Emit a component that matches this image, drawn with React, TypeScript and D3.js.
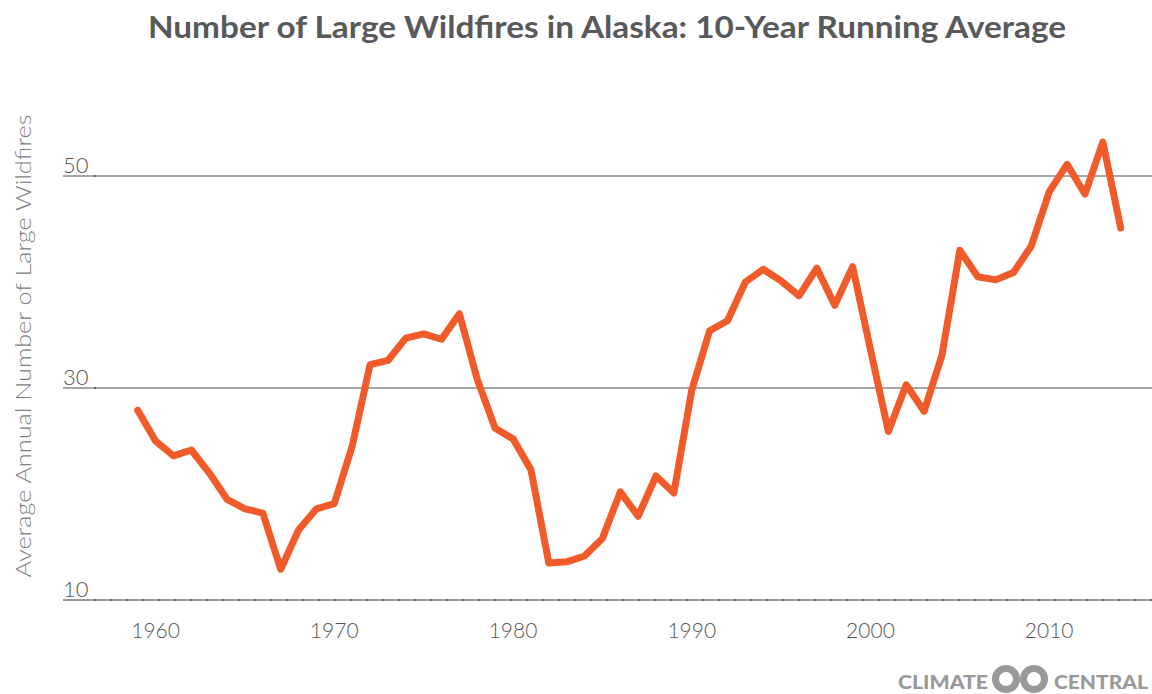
import React from "react";
import * as d3 from "d3";

const title = "Number of Large Wildfires in Alaska: 10-Year Running Average";
const yTitle = "Average Annual Number of Large Wildfires";

const years = [
  1959, 1960, 1961, 1962, 1963, 1964, 1965, 1966, 1967, 1968,
  1969, 1970, 1971, 1972, 1973, 1974, 1975, 1976, 1977, 1978,
  1979, 1980, 1981, 1982, 1983, 1984, 1985, 1986, 1987, 1988,
  1989, 1990, 1991, 1992, 1993, 1994, 1995, 1996, 1997, 1998,
  1999, 2000, 2001, 2002, 2003, 2004, 2005, 2006, 2007, 2008,
  2009, 2010, 2011, 2012, 2013, 2014,
];

const fires = [
  27.9, 25.0, 23.6, 24.15, 22.0, 19.5, 18.6, 18.2, 12.9, 16.6,
  18.6, 19.1, 24.5, 32.2, 32.6, 34.7, 35.1, 34.6, 37.0, 30.8,
  26.2, 25.2, 22.3, 13.5, 13.6, 14.15, 15.8, 20.2, 17.9, 21.7,
  20.1, 29.8, 35.4, 36.35, 40.0, 41.2, 40.1, 38.7, 41.3, 37.8,
  41.45, 33.6, 25.9, 30.3, 27.8, 33.1, 43.0, 40.5, 40.2, 40.9,
  43.4, 48.5, 51.1, 48.3, 53.2, 45.1,
];

const xTickYears = [1960, 1970, 1980, 1990, 2000, 2010];
const yTickValues = [10, 30, 50];

const W = 1152;
const H = 694;

export default function App() {
  const x = d3.scaleLinear().domain([1959, 2014]).range([137.7, 1120.7]);
  const y = d3.scaleLinear().domain([10, 50]).range([600, 176]);

  const line = d3
    .line<number>()
    .x((_, i) => x(years[i]))
    .y((d) => y(d));

  const axisLeft = 63;
  const minorTicks = d3.range(95, W, 16);

  return (
    <svg
      width={W}
      height={H}
      style={{ position: "absolute", left: 0, top: 0, background: "#fff" }}
    >
      <text
        x={607}
        y={38}
        textAnchor="middle"
        fontFamily="Lato, 'Open Sans', sans-serif"
        fontWeight={700}
        fontSize={31}
        fill="#58595b"
        textLength={918}
        lengthAdjust="spacingAndGlyphs"
      >
        {title}
      </text>

      <text
        transform={`translate(31, 346) rotate(-90)`}
        textAnchor="middle"
        fontFamily="Lato, 'Open Sans', sans-serif"
        fontWeight={300}
        fontSize={22}
        fill="#808080"
        textLength={463}
        lengthAdjust="spacingAndGlyphs"
      >
        {yTitle}
      </text>

      {yTickValues.map((v) => (
        <g key={v}>
          <line
            x1={axisLeft}
            x2={W}
            y1={y(v)}
            y2={y(v)}
            stroke={v === 10 ? "#9a9a9a" : "#8a8a8a"}
            strokeWidth={v === 10 ? 2 : 1.5}
          />
          <text
            x={axisLeft}
            y={y(v) - 3}
            fontFamily="Lato, 'Open Sans', sans-serif"
            fontWeight={300}
            fontSize={22}
            fill="#555"
          >
            {v}
          </text>
        </g>
      ))}

      {minorTicks.map((t) => (
        <rect key={t} x={t - 1} y={y(10) - 1} width={2} height={2} fill="#666" />
      ))}
      {[30, 50].map((v) => (
        <rect key={"yt" + v} x={94} y={y(v) - 1} width={2} height={2} fill="#666" />
      ))}

      {xTickYears.map((yr) => (
        <text
          key={yr}
          x={x(yr)}
          y={638}
          textAnchor="middle"
          fontFamily="Lato, 'Open Sans', sans-serif"
          fontWeight={300}
          fontSize={21}
          fill="#555"
        >
          {yr}
        </text>
      ))}

      <path
        d={line(fires) || ""}
        fill="none"
        stroke="#f15a29"
        strokeWidth={7}
        strokeLinejoin="round"
        strokeLinecap="round"
      />

      <g fill="#999" fontFamily="Lato, 'Open Sans', sans-serif" fontWeight={900} fontSize={19}>
        <text x={898} y={689} textLength={90} lengthAdjust="spacingAndGlyphs">
          CLIMATE
        </text>
        <circle cx={1006} cy={679} r={10.5} fill="none" stroke="#999" strokeWidth={7} />
        <circle cx={1034} cy={679} r={10.5} fill="none" stroke="#999" strokeWidth={7} />
        <text x={1054} y={689} textLength={94} lengthAdjust="spacingAndGlyphs">
          CENTRAL
        </text>
      </g>
    </svg>
  );
}
